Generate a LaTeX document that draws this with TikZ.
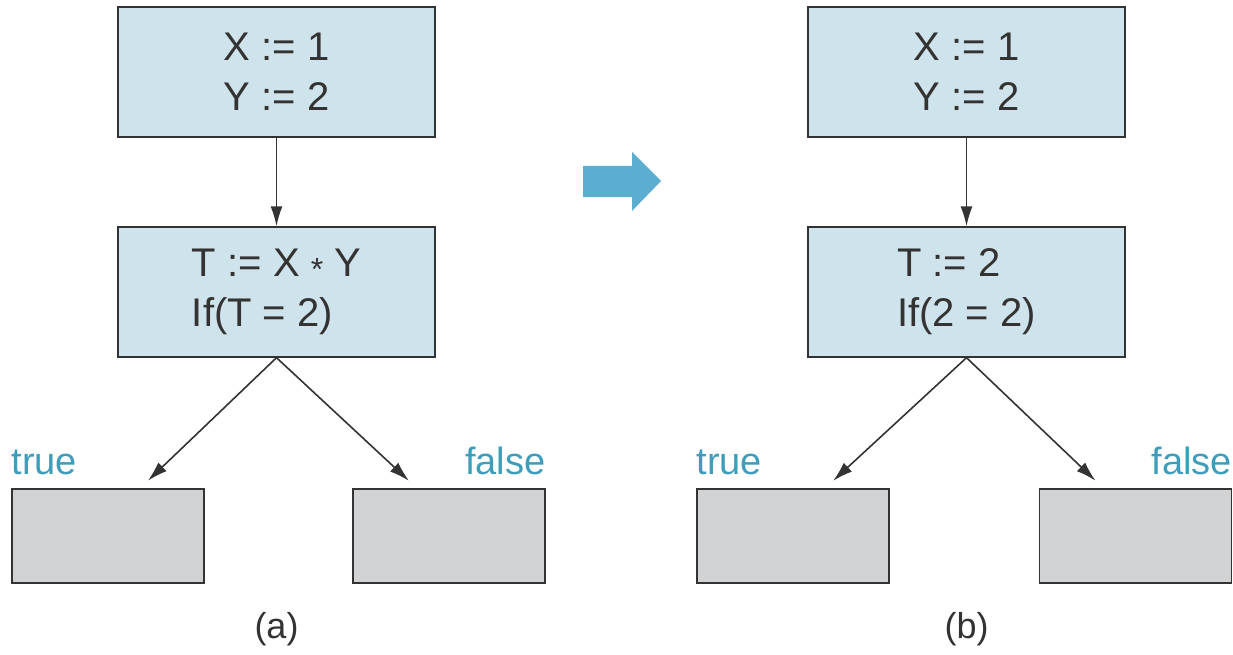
\documentclass[tikz,border=0pt]{standalone}
\usepackage{fontspec}
\setmainfont{Liberation Sans}
\usetikzlibrary{positioning,arrows.meta}
\definecolor{boxblue}{HTML}{CFE3EC}
\definecolor{boxgray}{HTML}{D1D2D4}
\definecolor{boxline}{HTML}{333333}
\definecolor{labelblue}{HTML}{3E9DBB}
\definecolor{arrowblue}{HTML}{5BAECF}

\begin{document}
\begin{tikzpicture}[x=1pt,y=-1pt,node distance=220pt,on grid,
    stmt/.style={draw=boxline,line width=1.4pt,fill=boxblue,minimum width=317pt,minimum height=130pt,align=left,text=boxline,font=\fontsize{40}{50}\selectfont},
    blank/.style={draw=boxline,line width=1.4pt,fill=boxgray,minimum width=192pt,minimum height=94pt},
    branch/.style={text=labelblue,font=\fontsize{38}{40}\selectfont,inner sep=0pt},
    caption/.style={text=boxline,font=\fontsize{36}{40}\selectfont,inner sep=0pt},
    flow/.style={every edge/.style={draw=boxline,line width=1.6pt,-{Latex[length=20pt,width=12pt]}}}]
    \useasboundingbox (0,0) rectangle (1233,655);

    % (a) before
    \node[stmt] (a1) at (276.5,72) {X := 1\\Y := 2};
    \node[stmt] (a2) [below=of a1] {T := X \raisebox{-0.1em}{\fontsize{32}{32}\selectfont *} Y\\If(T = 2)};
    \node[blank] (a3) [below left=244pt and 168.5pt of a2] {};
    \node[blank] (a4) [below right=244pt and 172.5pt of a2] {};
    \node[branch, anchor=base west] (at) at ([yshift=14pt]a3.north west) {true};
    \node[branch, anchor=base east] (af) at ([yshift=14pt]a4.north east) {false};
    \node[caption, anchor=base] (acap) at (276.5,638) {(a)};

    \path[flow]
    (a1) edge (a2)
    (a2.south) edge[shorten >=11pt] ([xshift=32pt]a3.north)
    (a2.south) edge[shorten >=11pt] ([xshift=-32pt]a4.north);

    % transformation arrow
    \fill[arrowblue] (583,166) -- (632,166) -- (632,152) -- (661,181)
        -- (632,211) -- (632,197) -- (583,197) -- cycle;

    % (b) after
    \node[stmt] (b1) at (966.5,72) {X := 1\\Y := 2};
    \node[stmt] (b2) [below=of b1] {T := 2\\If(2 = 2)};
    \node[blank] (b3) [below left=244pt and 173.5pt of b2] {};
    \node[blank] (b4) [below right=244pt and 169pt of b2] {};
    \node[branch, anchor=base west] (bt) at ([yshift=14pt]b3.north west) {true};
    \node[branch, anchor=base east] (bf) at ([yshift=14pt]b4.north east) {false};
    \node[caption, anchor=base] (bcap) at (966.5,638) {(b)};

    \path[flow]
    (b1) edge (b2)
    (b2.south) edge[shorten >=11pt] ([xshift=32pt]b3.north)
    (b2.south) edge[shorten >=11pt] ([xshift=-32pt]b4.north);
\end{tikzpicture}
\end{document}
